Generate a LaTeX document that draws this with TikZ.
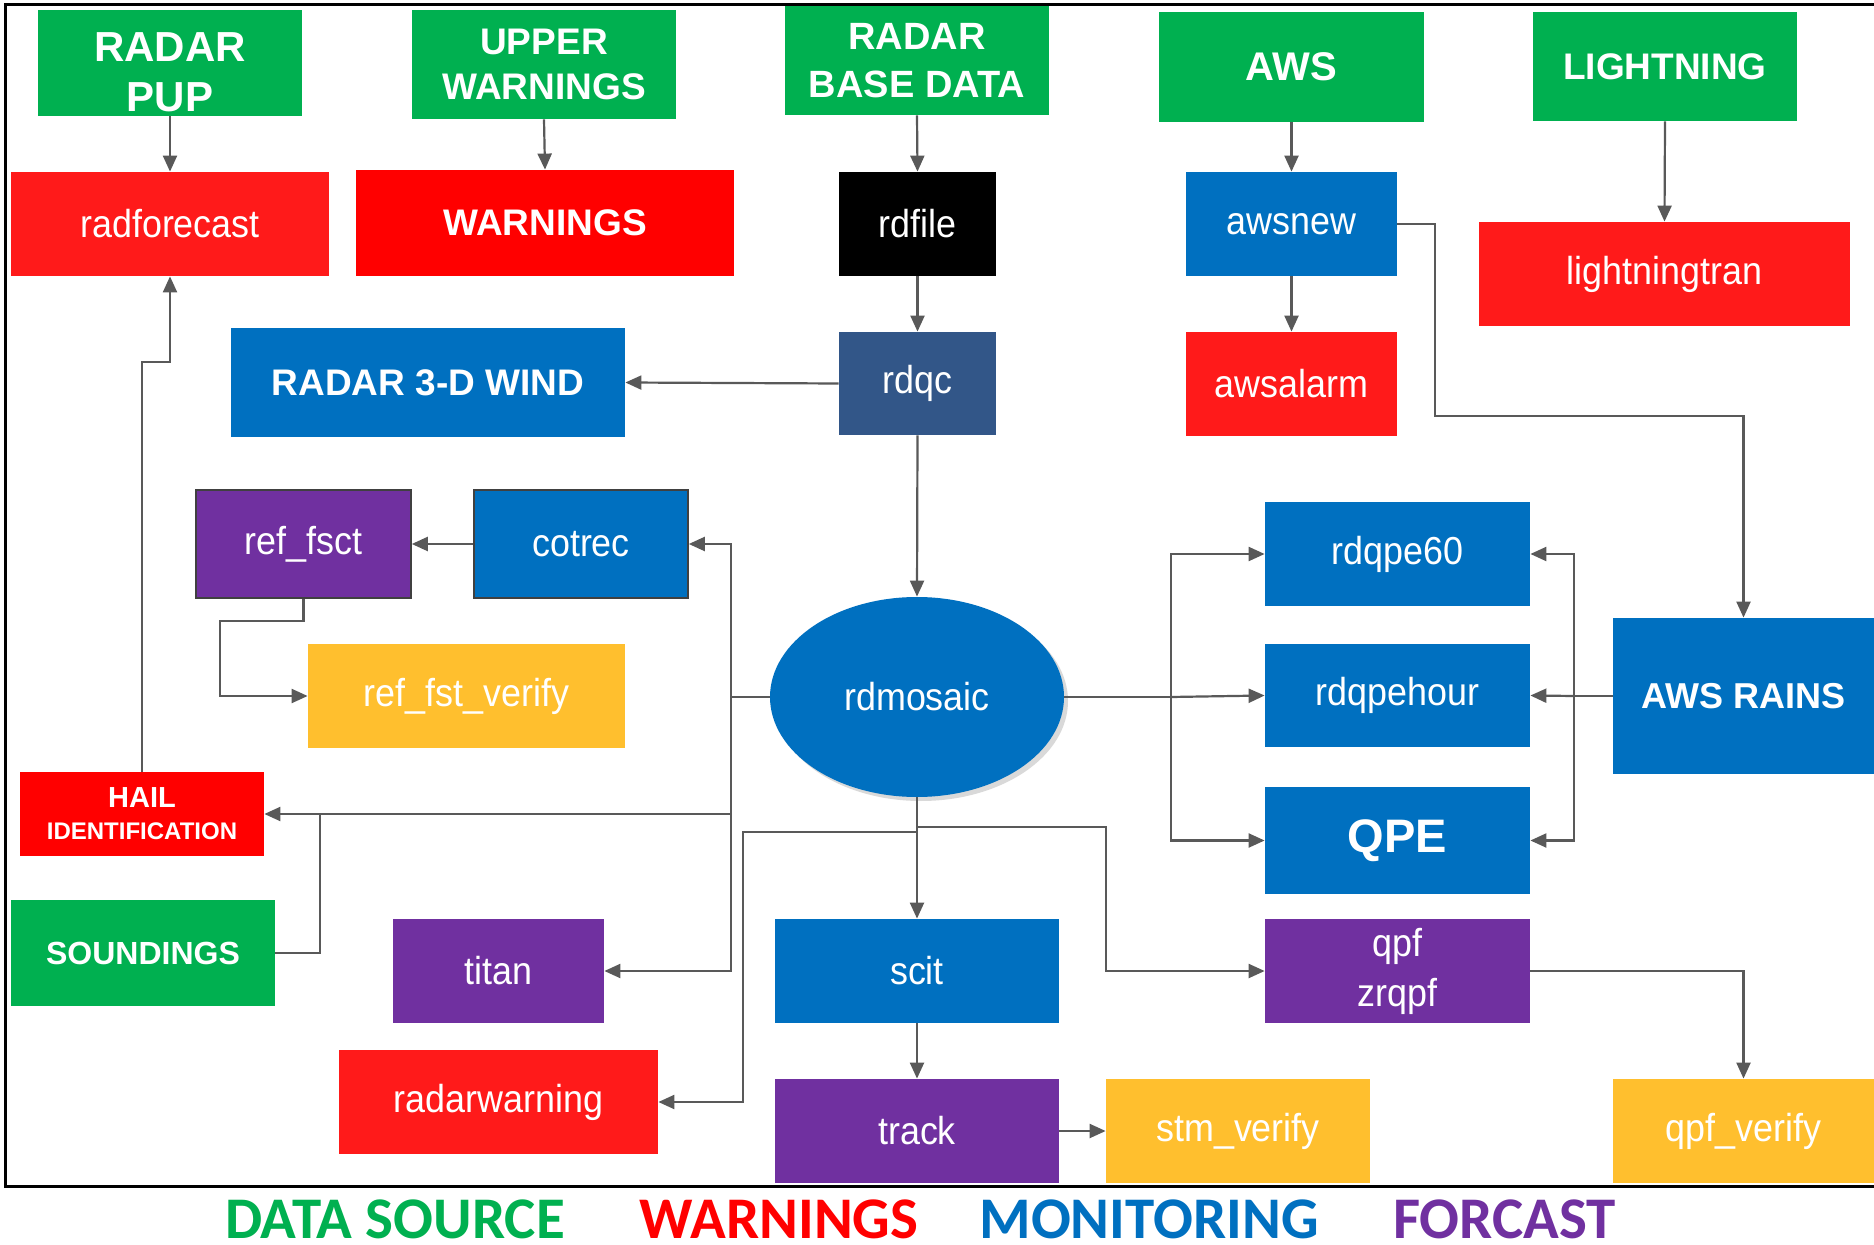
\documentclass[tikz,border=0pt]{standalone}
\usepackage{fontspec}
\setmainfont{Liberation Sans}
\newfontfamily\narrowfont[FakeStretch=0.92]{Liberation Sans}
\newfontfamily\legendfont{Carlito}
\usetikzlibrary{shapes.geometric,arrows.meta}
\definecolor{cgreen}{HTML}{00B050}
\definecolor{cred}{HTML}{FF1A1A}
\definecolor{pred}{HTML}{FF0000}
\definecolor{cblue}{HTML}{0070C0}
\definecolor{cpurple}{HTML}{7030A0}
\definecolor{cyellow}{HTML}{FFBF2E}
\definecolor{cslate}{HTML}{325688}
\definecolor{cgray}{HTML}{595959}
\newcommand{\myfs}[2]{\fontsize{#1}{#2}\selectfont}
\begin{document}
\begin{tikzpicture}[x=0.5pt,y=-0.5pt,
  box/.style={rectangle, inner sep=0pt, align=center, text=white},
  bb/.style 2 args={minimum width=#1*0.5pt, minimum height=#2*0.5pt},
  reg/.style={font={\narrowfont\myfs{19.5pt}{25pt}}},
  line/.style={draw=cgray, line width=1.1pt},
  arr/.style={line, -{Triangle[length=8pt,width=7pt]}},
  outl/.style={draw=black!75, line width=0.8pt},
  leg/.style={anchor=base, inner sep=0pt, font={\legendfont\bfseries\myfs{29.5pt}{30pt}}}
]
\useasboundingbox (0,0) rectangle (1874,1245);
\fill[white] (0,0) rectangle (1874,1245);
% frame
\draw[line width=1.5pt] (1874,5) -- (5,5) -- (5,1186) -- (1874,1186);

% top row sources
\node[box, fill=cgreen, bb={264}{106}] (pup) at (170,63) {};
\node[box, font={\bfseries\myfs{21pt}{25pt}}] (puptxt) at (170,72) {RADAR\\PUP};
\node[box, fill=cgreen, bb={264}{109}, font={\bfseries\myfs{18.5pt}{22.5pt}}] (upw) at (544,64.5) {UPPER\\WARNINGS};
\node[box, fill=cgreen, bb={264}{109}, font={\bfseries\myfs{19pt}{24pt}}] (base) at (917,60.5) {RADAR\\BASE DATA};
\node[box, fill=cgreen, bb={265}{110}, font={\bfseries\myfs{20pt}{24pt}}] (aws) at (1291.5,67) {AWS};
\node[box, fill=cgreen, bb={264}{109}, font={\bfseries\myfs{18.5pt}{22pt}}] (light) at (1665,66.5) {LIGHTNING};

% second row
\node[box, fill=cred, bb={318}{104}, reg] (radf) at (170,224) {radforecast};
\node[box, fill=pred, bb={378}{106}, font={\bfseries\myfs{18.5pt}{22pt}}] (warn) at (545,223) {WARNINGS};
\node[box, fill=black, bb={157}{104}, reg] (rdfile) at (917.5,224) {rdfile};
\node[box, fill=cblue, bb={211}{104}, reg] (awsnew) at (1291.5,224) {awsnew};
\node[box, fill=cred, bb={371}{104}, reg] (ltran) at (1664.5,274) {lightningtran};

% third row
\node[box, fill=cblue, bb={394}{109}, font={\bfseries\myfs{18.5pt}{22pt}}] (wind) at (428,382.5) {RADAR 3-D WIND};
\node[box, fill=cslate, bb={157}{103}, reg] (rdqc) at (917.5,383.5) {rdqc};
\node[box, fill=cred, bb={211}{104}, reg] (awsalarm) at (1291.5,384) {awsalarm};

% middle
\node[box, fill=cpurple, outl, bb={215}{108}, reg] (reffsct) at (303.5,544) {ref\_fsct};
\node[box, fill=cblue, outl, bb={214}{108}, reg] (cotrec) at (581,544) {cotrec};
\node[box, fill=cyellow, bb={317}{104}, reg] (rfv) at (466.5,696) {ref\_fst\_verify};
\node[box, ellipse, fill=black!15, bb={294}{200}] (mosaicshadow) at (921,701) {};
\node[box, ellipse, fill=cblue, bb={294}{200}, reg] (mosaic) at (917,697) {rdmosaic};
\node[box, fill=cblue, bb={265}{104}, reg] (qpe60) at (1397.5,554) {rdqpe60};
\node[box, fill=cblue, bb={265}{103}, reg] (qpehour) at (1397.5,695.5) {rdqpehour};
\node[box, fill=cblue, bb={265}{107}, font={\bfseries\myfs{23.5pt}{28pt}}] (qpe) at (1397.5,840.5) {QPE};
\node[box, fill=cblue, bb={261}{156}, font={\bfseries\myfs{18pt}{22pt}}] (awsrains) at (1743.5,696) {AWS RAINS};
\node[box, fill=pred, bb={244}{84}, font={\bfseries\myfs{14.5pt}{16pt}}] (hail) at (142,814) {HAIL\\{\myfs{12pt}{16pt}IDENTIFICATION}};
\node[box, fill=cgreen, bb={264}{106}, font={\bfseries\myfs{16pt}{20pt}}] (sound) at (143,953) {SOUNDINGS};

% lower rows
\node[box, fill=cpurple, bb={211}{104}, reg] (titan) at (498.5,971) {titan};
\node[box, fill=cblue, bb={284}{104}, reg] (scit) at (917,971) {scit};
\node[box, fill=cpurple, bb={265}{104}, reg] (qpf) at (1397.5,971) {qpf\\zrqpf};
\node[box, fill=cred, bb={319}{104}, reg] (radarw) at (498.5,1102) {radarwarning};
\node[box, fill=cpurple, bb={284}{104}, reg] (track) at (917,1131) {track};
\node[box, fill=cyellow, bb={264}{104}, reg] (stm) at (1238,1131) {stm\_verify};
\node[box, fill=cyellow, bb={261}{104}, reg] (qpfv) at (1743.5,1131) {qpf\_verify};

% connectors
\draw[arr] (pup.south) -- (radf.north);
\draw[arr] (upw.south) -- (warn.north);
\draw[arr] (base.south) -- (rdfile.north);
\draw[arr] (aws.south) -- (awsnew.north);
\draw[arr] (light.south) -- (ltran.north);
\draw[arr] (rdfile.south) -- (rdqc.north);
\draw[arr] (awsnew.south) -- (awsalarm.north);
\draw[arr] (rdqc.west) -- (wind.east);
\draw[arr] (rdqc.south) -- (mosaic.north);

\coordinate (aw1) at (1435,416);
\draw[arr] (awsnew.east) -| (aw1) -| (awsrains.north);

\coordinate (hailturn) at (142,362);
\draw[arr] (hail.north) -- (hailturn) -| (radf.south);

\draw[arr] (cotrec.west) -- (reffsct.east);
\coordinate (rf1) at (220,621);
\draw[arr] (reffsct.south) |- (rf1) |- (rfv.west);

\coordinate (ml) at (731,697);
\draw[line] (mosaic.west) -- (ml);
\draw[arr] (ml) |- (cotrec.east);
\draw[arr] (ml) |- (hail.east);
\draw[arr] (ml) |- (titan.east);

\coordinate (s1) at (320,814);
\draw[line] (sound.east) -| (s1);

\draw[arr] (mosaic.south) -- (scit.north);
\coordinate (mb1) at (917,827);
\coordinate (mb2) at (917,832);
\coordinate (q1) at (1106,827);
\coordinate (r1) at (743,832);
\draw[arr] (mb1) -- (q1) |- (qpf.west);
\draw[arr] (mb2) -- (r1) |- (radarw.east);

\coordinate (mr) at (1171,697);
\draw[line] (mosaic.east) -- (mr);
\draw[arr] (mr) |- (qpe60.west);
\draw[arr] (mr) -- (qpehour.west);
\draw[arr] (mr) |- (qpe.west);

\coordinate (ar) at (1574,696);
\draw[line] (awsrains.west) -- (ar);
\draw[arr] (ar) -- (qpehour.east);
\draw[arr] (ar) |- (qpe60.east);
\draw[arr] (ar) |- (qpe.east);

\draw[arr] (qpf.east) -| (qpfv.north);
\draw[arr] (scit.south) -- (track.north);
\draw[arr] (track.east) -- (stm.west);

% legend
\node[leg, text=cgreen] (legds) at (395,1238) {DATA SOURCE};
\node[leg, text=pred] (legwa) at (779,1238) {WARNINGS};
\node[leg, text=cblue] (legmo) at (1149,1238) {MONITORING};
\node[leg, text=cpurple] (legfo) at (1504.5,1238) {FORCAST};
\end{tikzpicture}
\end{document}
